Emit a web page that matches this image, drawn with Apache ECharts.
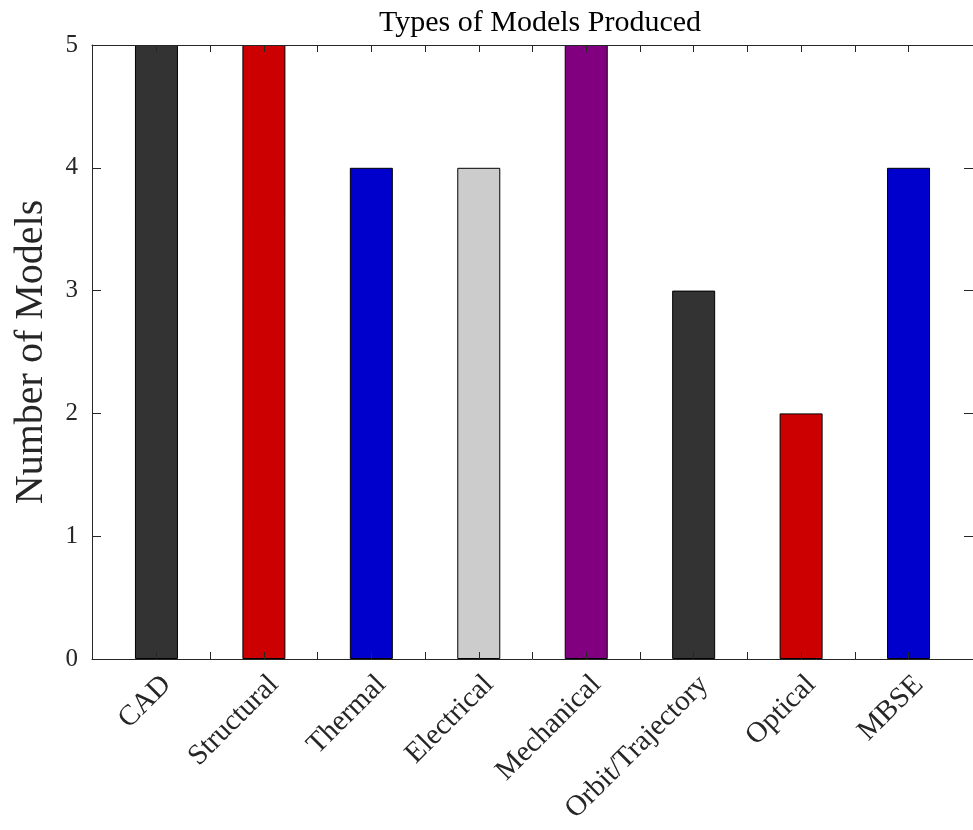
<!DOCTYPE html>
<html>
<head>
<meta charset="utf-8">
<style>
  html, body { margin: 0; padding: 0; background: #fff; }
  #chart { width: 973px; height: 830px; }
</style>
<script src="https://cdn.jsdelivr.net/npm/echarts@6/dist/echarts.min.js"></script>
</head>
<body>
<div id="chart"></div>
<script>
// Model categories and how many models of each type were produced
const categories = ['CAD', 'Structural', 'Thermal', 'Electrical', 'Mechanical', 'Orbit/Trajectory', 'Optical', 'MBSE'];
const modelCounts = [5, 5, 4, 4, 5, 3, 2, 4];
const barColors = ['#333333', '#cc0000', '#0000cc', '#cccccc', '#800080', '#333333', '#cc0000', '#0000cc'];

// Bar positions on the x scale and y tick labels
const labelPositions = [1, 2, 3, 4, 5, 6, 7, 8];
const yTickLabels = ['0', '1', '2', '3', '4', '5'];

// x scale runs from 0.4 to 8.6; ticks sit at every bar centre and midway between bars
const X_MIN = 0.4;
const X_MAX = 8.6;
const TICK_STEP = 0.1;              // resolution of the hidden tick scale
const tickSlots = Array.from({ length: Math.round((X_MAX - X_MIN) / TICK_STEP) }, (_, i) => String(i));
const firstTickSlot = Math.round((1 - X_MIN) / TICK_STEP);   // slot at x = 1
const lastTickSlot = Math.round((8 - X_MIN) / TICK_STEP);    // slot at x = 8
const isTickSlot = i => i >= firstTickSlot && i <= lastTickSlot && (i - firstTickSlot) % 5 === 0;

const FONT = '"Liberation Serif", "DejaVu Serif", serif';
const AXIS_COLOR = '#262626';

const chart = echarts.init(document.getElementById('chart'));

const barData = modelCounts.map((v, i) => ({
  value: [labelPositions[i], v],
  itemStyle: { color: barColors[i] }
}));

const lineStyle = { color: AXIS_COLOR, width: 1 };

function tickAxis(position) {
  return {
    type: 'category',
    data: tickSlots,
    boundaryGap: true,
    position: position,
    z: 5,
    splitLine: { show: false },
    axisLine: { show: true, lineStyle },
    axisTick: { show: true, inside: true, length: 7, lineStyle, interval: (i) => isTickSlot(i) },
    axisLabel: { show: false }
  };
}

chart.setOption({
  animation: false,
  backgroundColor: '#ffffff',
  title: {
    text: 'Types of Models Produced',
    left: 535,
    textAlign: 'center',
    top: 3,
    textStyle: { fontFamily: FONT, fontSize: 30, fontWeight: 'normal', color: '#000' }
  },
  grid: { left: 92, top: 45, width: 885, height: 614, containLabel: false },
  xAxis: [
    {
      // bar positions and category labels
      type: 'value',
      min: X_MIN,
      max: X_MAX,
      position: 'bottom',
      z: 4,
      splitLine: { show: false },
      axisLine: { show: false },
      axisTick: { show: false },
      axisLabel: {
        show: true,
        customValues: labelPositions,
        rotate: 45,
        margin: 11,
        align: 'right',
        verticalAlign: 'top',
        formatter: v => categories[labelPositions.indexOf(v)] || '',
        fontFamily: FONT,
        fontSize: 29,
        color: '#262626'
      }
    },
    tickAxis('bottom'),
    tickAxis('top')
  ],
  yAxis: [
    {
      type: 'value',
      min: 0,
      max: 5,
      interval: 1,
      position: 'left',
      z: 5,
      name: 'Number of Models',
      nameLocation: 'middle',
      nameGap: 41,
      nameTextStyle: { fontFamily: FONT, fontSize: 40, color: '#262626' },
      splitLine: { show: false },
      axisLine: { show: true, lineStyle },
      axisTick: { show: true, inside: true, length: 9, lineStyle },
      axisLabel: {
        margin: 14,
        formatter: v => yTickLabels[Math.round(v)],
        fontFamily: FONT,
        fontSize: 25,
        color: '#262626'
      }
    },
    {
      type: 'value',
      min: 0,
      max: 5,
      interval: 1,
      position: 'right',
      z: 5,
      splitLine: { show: false },
      axisLine: { show: true, lineStyle },
      axisTick: { show: true, inside: true, length: 9, lineStyle },
      axisLabel: { show: false }
    }
  ],
  series: [
    {
      type: 'bar',
      xAxisIndex: 0,
      yAxisIndex: 0,
      z: 1,
      barWidth: 43,
      data: barData,
      itemStyle: { borderColor: '#000', borderWidth: 1 }
    }
  ]
});
</script>
</body>
</html>
